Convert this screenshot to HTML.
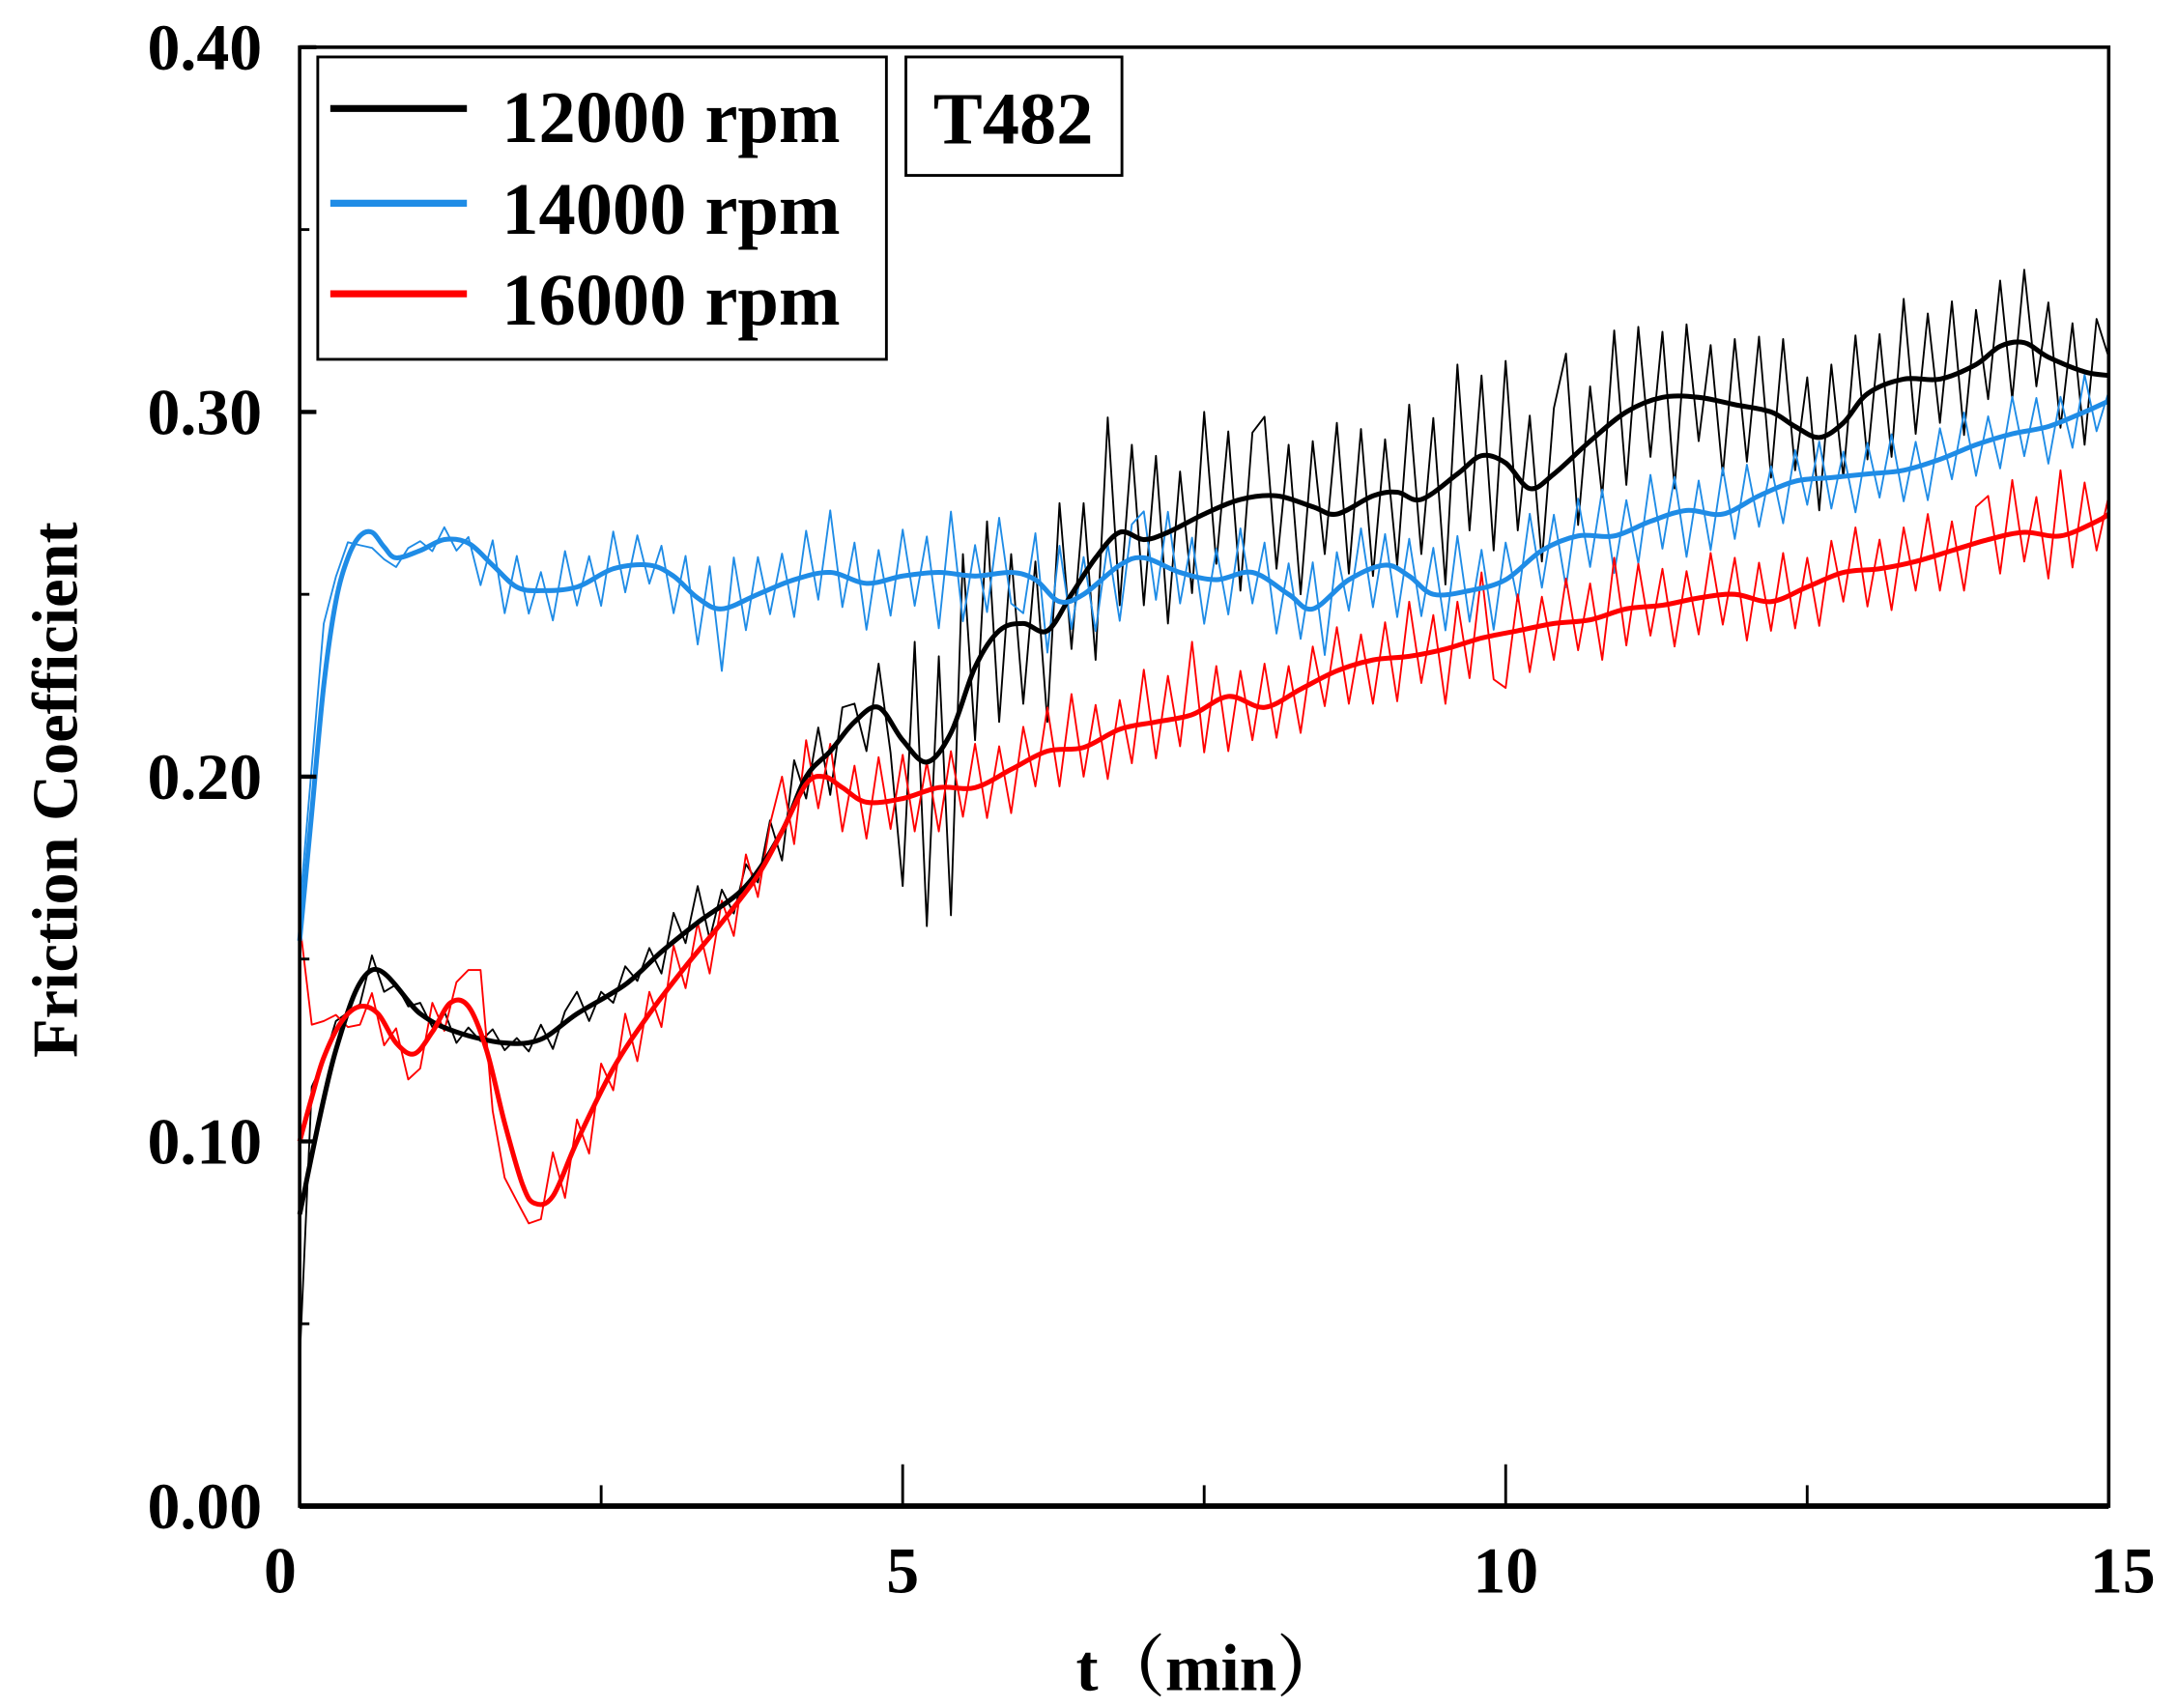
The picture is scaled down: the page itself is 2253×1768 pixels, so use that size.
<!DOCTYPE html>
<html><head><meta charset="utf-8"><style>
html,body{margin:0;padding:0;background:#fff}
svg{display:block}
text{font-family:"Liberation Serif","Noto Serif CJK SC",serif;font-weight:bold;fill:#000}
</style></head><body>
<svg id="chart" width="2253" height="1768" viewBox="0 0 1562 1224" xmlns="http://www.w3.org/2000/svg">
<g id="raw"></g>
<g id="smooth"></g>
<g id="axes"></g>
<rect x="228" y="40" width="408" height="217" fill="#fff" stroke="#000" stroke-width="2"/>
<line x1="237" y1="77" x2="335" y2="77" stroke="#000" stroke-width="5"/>
<line x1="237" y1="145" x2="335" y2="145" stroke="#1f8ce6" stroke-width="5"/>
<line x1="237" y1="210" x2="335" y2="210" stroke="#ff0000" stroke-width="5"/>
<text x="360" y="101" font-size="53">12000 rpm</text>
<text x="360" y="167" font-size="53">14000 rpm</text>
<text x="360" y="232" font-size="53">16000 rpm</text>
<rect x="650" y="40" width="155" height="85" fill="#fff" stroke="#000" stroke-width="2"/>
<text x="727" y="102" font-size="53" text-anchor="middle">T482</text>
<text x="868" y="1212" font-size="48" text-anchor="middle">t（min）</text>
<text transform="translate(55,566) rotate(-90)" font-size="46" text-anchor="middle">Friction Coefficient</text>
</svg>
<script>
const xTicks=[0,5,10,15];
const xMinorTicks=[2.5,7.5,12.5];
const yTicks=[0,0.1,0.2,0.3,0.4];
const yTickLabels=["0.00","0.10","0.20","0.30","0.40"];
const yMinorTicks=[0.05,0.15,0.25,0.35];

const tBlack=[0,0.3,0.6,1.0,1.3,1.7,2.0,2.3,2.7,3.0,3.3,3.7,4.0,4.2,4.4,4.6,4.8,5.0,5.2,5.4,5.6,5.8,6.0,6.2,6.4,6.6,6.8,7.0,7.2,7.5,7.8,8.1,8.4,8.6,8.9,9.1,9.3,9.6,9.8,10.0,10.2,10.4,10.7,11.0,11.3,11.6,11.9,12.2,12.4,12.6,12.8,13.0,13.3,13.6,13.9,14.1,14.3,14.5,14.8,15];
const vBlack=[0.08,0.125,0.147,0.135,0.13,0.127,0.128,0.135,0.143,0.152,0.16,0.17,0.185,0.2,0.207,0.215,0.219,0.21,0.204,0.212,0.23,0.24,0.242,0.24,0.25,0.26,0.267,0.265,0.267,0.272,0.276,0.277,0.274,0.272,0.277,0.278,0.276,0.283,0.288,0.286,0.279,0.283,0.292,0.3,0.304,0.304,0.302,0.3,0.296,0.293,0.297,0.305,0.309,0.309,0.313,0.318,0.319,0.315,0.311,0.31];
const tBlue=[0,0.1,0.2,0.3,0.4,0.5,0.6,0.7,0.8,1.0,1.2,1.4,1.6,1.8,2.0,2.3,2.6,2.9,3.1,3.3,3.5,3.8,4.1,4.4,4.7,5.0,5.3,5.6,5.9,6.1,6.3,6.5,6.8,7.0,7.3,7.6,7.9,8.2,8.4,8.7,9.0,9.2,9.4,9.7,10.0,10.3,10.6,10.9,11.2,11.5,11.8,12.1,12.4,12.7,13.0,13.3,13.6,13.9,14.2,14.5,14.8,15];
const vBlue=[0.155,0.19,0.225,0.248,0.26,0.266,0.267,0.263,0.26,0.262,0.265,0.264,0.258,0.252,0.251,0.252,0.257,0.258,0.255,0.249,0.246,0.25,0.254,0.256,0.253,0.255,0.256,0.255,0.256,0.254,0.248,0.25,0.258,0.26,0.256,0.254,0.256,0.25,0.246,0.254,0.258,0.255,0.25,0.251,0.254,0.262,0.266,0.266,0.27,0.273,0.272,0.277,0.281,0.282,0.283,0.284,0.287,0.291,0.294,0.296,0.3,0.303];
const tRed=[0,0.1,0.2,0.35,0.5,0.65,0.8,0.95,1.1,1.25,1.4,1.55,1.7,1.85,1.95,2.1,2.3,2.6,2.9,3.2,3.5,3.8,4.0,4.2,4.35,4.5,4.7,5.0,5.3,5.6,5.9,6.2,6.5,6.8,7.1,7.4,7.7,8.0,8.3,8.6,8.9,9.2,9.5,9.8,10.1,10.4,10.7,11.0,11.3,11.6,11.9,12.2,12.5,12.8,13.1,13.4,13.7,14.0,14.3,14.6,14.9,15];
const vRed=[0.1,0.112,0.123,0.133,0.137,0.135,0.127,0.124,0.13,0.138,0.137,0.125,0.105,0.088,0.083,0.085,0.1,0.12,0.135,0.148,0.16,0.173,0.185,0.198,0.2,0.197,0.193,0.194,0.197,0.197,0.202,0.207,0.208,0.213,0.215,0.217,0.222,0.219,0.224,0.229,0.232,0.233,0.235,0.238,0.24,0.242,0.243,0.246,0.247,0.249,0.25,0.248,0.252,0.256,0.257,0.259,0.262,0.265,0.267,0.266,0.27,0.272];

const dBlack=[-40,20,12,8,3,-2,4,-3,2,-1, 3,-2,4,-3,2,-1,3,-2,1,-3, 4,-5,3,6,-4,2,-3,5,-2,4, -6,8,-3,10,-7,4,-5,6,-4,8, -8,12,-6,10,-12,8,5,-10,12,-8, -40,30,-45,25,-50,40,-20,35,-25,20, -22,18,-25,30,-15,20,-28,35,-20,25, -18,22,-25,15,-20,28,-15,20,-25,18, 22,-20,15,-25,18,-12,25,-18,20,-22, 15,-20,25,-15,20,-28,30,-18,22,-25, 28,-15,20,-22,18,30,-20,15,-18,25, -20,22,-15,18,-25,20,-12,15,-20,18, -15,20,-18,22,-12,15,-20,18,-15,20, -18,15,-20,22,-15,18,-12,20,-18,15, -12,18,-15,20,-10,15,-18,12,-20,15, 5];
const dBlue=[10,15,20,8,5,-3,-5,-4,-3,2, 3,-2,4,-3,2,-10,8,-12,10,-8, 6,-10,12,-6,8,-10,12,-8,10,-6, 8,-12,10,-15,12,-20,15,-10,12,-8, 10,-12,15,-8,20,-10,12,-15,10,-12, 15,-10,12,-18,20,-15,10,-12,18,-10, -12,15,-20,18,-10,12,-15,10,-18,12, 15,-12,18,-10,12,-15,10,-12,15,-10, 12,-15,10,-12,15,-18,12,-10,15,-12, 10,-15,12,-10,15,-12,18,-10,12,-15, 12,-10,15,-12,10,-15,12,-10,15,-12, 10,-12,15,-10,12,-15,10,-12,15,-10, 12,-10,8,-12,10,-8,12,-10,8,-12, 10,-8,12,-10,8,-12,10,-8,12,-10, 8,-10,12,-8,10,-12,8,-10,12,-8, 3];
const dRed=[60,20,10,5,-3,-5,5,-6,4,-8, -6,8,-5,6,10,18,-10,-15,-10,-8, -5,12,-8,6,-10,8,-6,10,-8,6, -8,10,-6,8,-10,6,-8,10,-6,8, 15,-10,12,-8,10,-12,8,-10,12,-8, 12,-10,8,-12,10,-8,12,-10,8,-12, 10,-8,12,-10,15,-8,10,-12,8,-10, 15,-10,12,-8,20,-12,10,-15,8,-10, 12,-10,8,-12,10,-8,12,-10,8,-12, 10,-12,15,-8,10,-15,12,-10,18,-12, -15,10,-12,8,-10,12,-8,10,-12,15, -10,12,-8,10,-12,8,-10,12,-8,10, -12,10,-8,12,-10,8,-12,10,-8,12, -10,8,-12,10,-8,12,-10,8,-12,10, 12,-10,15,-8,10,-12,18,-10,12,-8, 5];

const X0=215,X1=1513,Y0=1080,Y1=33;
const xs=t=>X0+(t/15)*(X1-X0);
const ys=v=>Y0-(v/0.4)*(Y0-Y1);
const NS="http://www.w3.org/2000/svg";
function mk(tag,attrs,parent){const e=document.createElementNS(NS,tag);for(const k in attrs)e.setAttribute(k,attrs[k]);parent.appendChild(e);return e;}
function interp(ts,vs,t){if(t<=ts[0])return vs[0];for(let i=1;i<ts.length;i++){if(t<=ts[i]){const f=(t-ts[i-1])/(ts[i]-ts[i-1]);return vs[i-1]+f*(vs[i]-vs[i-1]);}}return vs[vs.length-1];}
function smoothPath(ts,vs){const p=ts.map((t,i)=>[xs(t),ys(vs[i])]);let d="M"+p[0][0]+","+p[0][1];for(let i=0;i<p.length-1;i++){const a=p[i-1]||p[i],b=p[i],c=p[i+1],e=p[i+2]||c;d+=" C"+(b[0]+(c[0]-a[0])/6)+","+(b[1]+(c[1]-a[1])/6)+" "+(c[0]-(e[0]-b[0])/6)+","+(c[1]-(e[1]-b[1])/6)+" "+c[0]+","+c[1];}return d;}
const rawG=document.getElementById('raw'),smG=document.getElementById('smooth'),axG=document.getElementById('axes');
const series=[["12000",tBlack,vBlack,dBlack,"#000",1],["14000",tBlue,vBlue,dBlue,"#1f8ce6",0.85],["16000",tRed,vRed,dRed,"#ff0000",1]];
series.forEach(s=>{
  const pts=s[3].map((d,i)=>{const t=i*0.1;return xs(t).toFixed(1)+","+ys(interp(s[1],s[2],t)+s[5]*d/1000).toFixed(1);}).join(" ");
  const r=mk('polyline',{points:pts,fill:"none",stroke:s[4],"stroke-width":1.3,"stroke-linejoin":"round"},rawG);
  
  
});
series.forEach(s=>{
  const p=mk('path',{d:smoothPath(s[1],s[2]),fill:"none",stroke:s[4],"stroke-width":3.5,"stroke-linejoin":"round"},smG);
  
  
});
const fr=mk('rect',{x:X0,y:Y1,width:X1-X0,height:Y0-Y1,fill:"none",stroke:"#000","stroke-width":2.5},axG);


const xa=mk('line',{x1:X0,y1:Y0,x2:X1,y2:Y0,stroke:"#000","stroke-width":4},axG);


xTicks.forEach(t=>{
  const l=mk('line',{x1:xs(t),y1:Y0,x2:xs(t),y2:Y0-30,stroke:"#000","stroke-width":2},axG);
  
  
  const tx=mk('text',{x:xs(t)+(t===0?-14:t===15?10:0),y:1142,"font-size":47,"text-anchor":"middle"},axG);
  tx.textContent=String(t);
  
  
});
xMinorTicks.forEach(t=>{
  const l=mk('line',{x1:xs(t),y1:Y0,x2:xs(t),y2:Y0-15,stroke:"#000","stroke-width":2},axG);
  
  
});
yTicks.forEach((v,i)=>{
  const l=mk('line',{x1:X0,y1:ys(v),x2:X0+12,y2:ys(v),stroke:"#000","stroke-width":3},axG);
  
  
  const tx=mk('text',{x:188,y:ys(v)+16,"font-size":47,"text-anchor":"end"},axG);
  tx.textContent=yTickLabels[i];
  
  
});
yMinorTicks.forEach(v=>{
  const l=mk('line',{x1:X0,y1:ys(v),x2:X0+7,y2:ys(v),stroke:"#000","stroke-width":2},axG);
  
  
});
</script>
</body></html>
